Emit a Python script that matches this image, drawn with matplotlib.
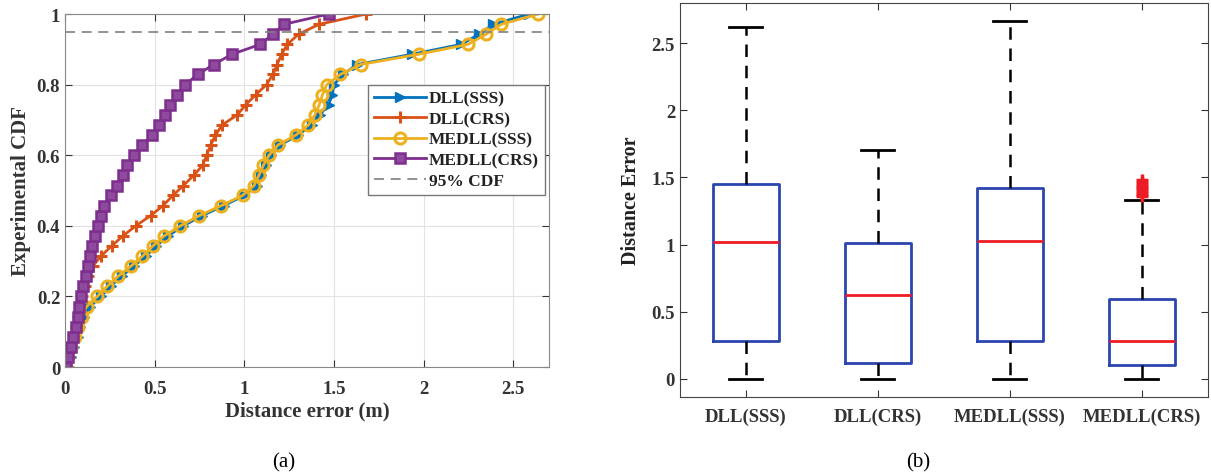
import matplotlib
matplotlib.use("Agg")
import matplotlib.pyplot as plt
import numpy as np

plt.rcParams["font.family"] = ["Liberation Serif", "DejaVu Serif"]
plt.rcParams["font.weight"] = "bold"

# empirical CDF levels (35 samples)
cdf_levels = [0, 0.029, 0.057, 0.086, 0.114, 0.143, 0.171, 0.2, 0.229, 0.257, 0.286,
              0.314, 0.343, 0.371, 0.4, 0.429, 0.457, 0.486, 0.514, 0.543, 0.571,
              0.6, 0.629, 0.657, 0.686, 0.714, 0.743, 0.771, 0.8, 0.829, 0.857,
              0.886, 0.914, 0.943, 0.971, 1.0]

# sorted distance errors (m)
dll_sss = [0.02, 0.035, 0.05, 0.07, 0.085, 0.105, 0.14, 0.2, 0.255, 0.315, 0.385,
           0.45, 0.51, 0.572, 0.66, 0.765, 0.885, 1.0, 1.07, 1.095, 1.12,
           1.15, 1.2, 1.3, 1.375, 1.42, 1.47, 1.49, 1.5, 1.55, 1.63,
           1.936, 2.21, 2.31, 2.39, 2.59]
dll_crs = [0.01, 0.02, 0.036, 0.05, 0.063, 0.075, 0.085, 0.097, 0.11, 0.128, 0.155,
           0.2, 0.26, 0.322, 0.395, 0.478, 0.546, 0.602, 0.66, 0.718, 0.767,
           0.79, 0.813, 0.839, 0.877, 0.96, 1.008, 1.063, 1.124, 1.16, 1.183,
           1.208, 1.24, 1.303, 1.418, 1.679]
medll_sss = [0.004, 0.008, 0.035, 0.055, 0.071, 0.093, 0.12, 0.18, 0.236, 0.296, 0.368,
             0.432, 0.49, 0.552, 0.644, 0.749, 0.87, 0.99, 1.054, 1.081, 1.106,
             1.138, 1.188, 1.287, 1.358, 1.394, 1.418, 1.436, 1.46, 1.536, 1.649,
             1.972, 2.247, 2.35, 2.434, 2.64]
medll_crs = [0.003, 0.019, 0.034, 0.047, 0.060, 0.071, 0.078, 0.089, 0.102, 0.116, 0.127,
             0.140, 0.153, 0.168, 0.183, 0.199, 0.220, 0.257, 0.289, 0.322, 0.345,
             0.382, 0.432, 0.484, 0.525, 0.555, 0.587, 0.624, 0.670, 0.741, 0.829,
             0.931, 1.089, 1.160, 1.223, 1.471]

# boxplot summary (b)
methods = ["DLL(SSS)", "DLL(CRS)", "MEDLL(SSS)", "MEDLL(CRS)"]
whisker_low = [0.0, 0.0, 0.0, 0.0]
q1 = [0.285, 0.119, 0.285, 0.104]
median = [1.022, 0.627, 1.027, 0.278]
q3 = [1.451, 1.012, 1.424, 0.595]
whisker_high = [2.619, 1.704, 2.664, 1.332]
outliers = [[], [], [], [1.36, 1.38, 1.40, 1.42, 1.44, 1.46, 1.48]]

fig = plt.figure(figsize=(12.11, 4.77), dpi=100)
ax1 = fig.add_axes([0.0537, 0.2285, 0.3997, 0.740])
ax2 = fig.add_axes([0.5615, 0.1656, 0.436, 0.826])

# ---- (a) CDF ----
ax1.plot(dll_sss, cdf_levels, color="#0072BD", lw=2, marker=">", ms=7,
         mfc="#0072BD", mew=1, label="DLL(SSS)")
ax1.plot(dll_crs, cdf_levels, color="#D95319", lw=2, marker="+", ms=8,
         mew=2.2, label="DLL(CRS)")
ax1.plot(medll_sss, cdf_levels, color="#EDB120", lw=2, marker="o", ms=8,
         mfc="none", mew=2.2, label="MEDLL(SSS)")
ax1.plot(medll_crs, cdf_levels, color="#7E2F8E", lw=2, marker="s", ms=6.5,
         mfc="#8e4a9c", mew=1.8, label="MEDLL(CRS)")
ax1.axhline(0.95, color="#808080", lw=1.2, ls=(0, (6, 4)), label="95% CDF")

ax1.set_xlim(0, 2.7)
ax1.set_ylim(0, 1)
ax1.set_xticks([0, 0.5, 1, 1.5, 2, 2.5])
ax1.set_xticklabels(["0", "0.5", "1", "1.5", "2", "2.5"])
ax1.set_yticks([0, 0.2, 0.4, 0.6, 0.8, 1])
ax1.set_yticklabels(["0", "0.2", "0.4", "0.6", "0.8", "1"])
ax1.grid(True, color="#e3e3e3", lw=0.8)
ax1.set_axisbelow(True)
ax1.tick_params(direction="in", top=True, right=True, labelsize=13.5,
                colors="#333333", length=5)
ax1.tick_params(axis="x", pad=9)
for s in ax1.spines.values():
    s.set_color("#888888")
ax1.set_xlabel("Distance error (m)", fontsize=15, fontweight="bold", color="#333333", labelpad=3)
ax1.set_ylabel("Experimental CDF", fontsize=15, fontweight="bold", color="#333333", labelpad=4)

leg = ax1.legend(loc="upper left", bbox_to_anchor=(0.625, 0.80), fontsize=12.5,
                 frameon=True, fancybox=False, framealpha=1, edgecolor="#777777",
                 handlelength=3.0, labelspacing=0.25, borderpad=0.35, handletextpad=0.2,
                 borderaxespad=0)
leg.get_frame().set_linewidth(1.0)
for t in leg.get_texts():
    t.set_color("#222222")

# ---- (b) boxplot ----
stats = []
for i in range(len(methods)):
    stats.append({
        "label": methods[i],
        "whislo": whisker_low[i],
        "q1": q1[i],
        "med": median[i],
        "q3": q3[i],
        "whishi": whisker_high[i],
        "fliers": outliers[i],
    })

ax2.bxp(stats, positions=[1, 2, 3, 4], widths=0.5, capwidths=0.25,
        boxprops=dict(color="#2b45b0", lw=2),
        medianprops=dict(color="#ee1c25", lw=2),
        whiskerprops=dict(color="black", lw=1.8, ls=(0, (5, 3.5))),
        capprops=dict(color="black", lw=2),
        flierprops=dict(marker="+", markeredgecolor="#ee1c25", ms=8, mew=2.5))

ax2.set_xlim(0.5, 4.5)
ax2.set_ylim(-0.136, 2.80)
ax2.set_yticks([0, 0.5, 1, 1.5, 2, 2.5])
ax2.set_yticklabels(["0", "0.5", "1", "1.5", "2", "2.5"])
ax2.tick_params(direction="in", top=True, right=True, labelsize=13.5,
                colors="#333333", length=5)
ax2.tick_params(axis="x", pad=8)
for s in ax2.spines.values():
    s.set_color("#444444")
ax2.set_ylabel("Distance Error", fontsize=14.5, fontweight="bold", color="#222222", labelpad=8)

fig.text(284 / 1211, 0.03, "(a)", ha="center", va="center", fontsize=15, fontweight="normal")
fig.text(918 / 1211, 0.03, "(b)", ha="center", va="center", fontsize=15, fontweight="normal")

fig.savefig("out.png", dpi=100)
plt.close("all")
